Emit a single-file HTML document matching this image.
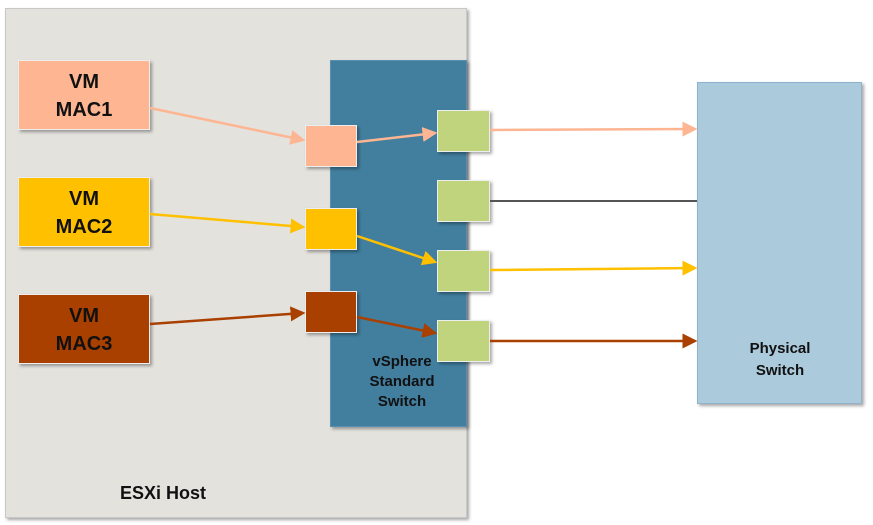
<!DOCTYPE html>
<html><head><style>
body{margin:0;width:873px;height:525px;background:#fff;position:relative;overflow:hidden;font-family:"Liberation Sans",sans-serif;}
div{position:absolute;box-sizing:border-box;}
.sh{box-shadow:2px 2px 3px rgba(0,0,0,.35);}
.vm{left:18px;width:132px;height:70px;border:1px solid #eee;font-weight:bold;font-size:20px;text-align:center;line-height:28px;padding-top:7px;color:#111;}
.p{width:52px;height:42px;border:1px solid #eee;}
.g{left:437px;width:53px;height:42px;background:#BFD47C;border:1px solid #eee;}
</style></head><body>
<div class="sh" style="left:5px;top:8px;width:462px;height:510px;background:#E4E2DD;border:1px solid #c8c8c8"></div>
<div style="left:120px;top:483px;font-weight:bold;font-size:18px;color:#111">ESXi Host</div>
<div class="sh" style="left:330px;top:60px;width:137px;height:367px;background:#427F9F;border:1px solid #5a8fb0"></div>
<div style="left:362px;top:352px;width:80px;text-align:center;font-weight:bold;font-size:15px;line-height:20px;color:#111">vSphere Standard Switch</div>
<div class="sh" style="left:697px;top:82px;width:165px;height:322px;background:#ABCADC;border:1px solid #8fb3cc"></div>
<div style="left:735px;top:338px;width:90px;text-align:center;font-weight:bold;font-size:15px;line-height:22px;color:#111">Physical Switch</div>
<div class="vm sh" style="top:60px;background:#FDB592">VM<br>MAC1</div>
<div class="vm sh" style="top:177px;background:#FFC000">VM<br>MAC2</div>
<div class="vm sh" style="top:294px;background:#A94000">VM<br>MAC3</div>
<div class="p sh" style="left:305px;top:125px;background:#FDB592"></div>
<div class="p sh" style="left:305px;top:208px;background:#FFC000"></div>
<div class="p sh" style="left:305px;top:291px;background:#A94000"></div>
<div class="g sh" style="top:110px"></div>
<div class="g sh" style="top:180px"></div>
<div class="g sh" style="top:250px"></div>
<div class="g sh" style="top:320px"></div>
<svg width="873" height="525" style="position:absolute;left:0;top:0">
<defs>
<marker id="a1" markerWidth="6" markerHeight="6" refX="5" refY="3" orient="auto"><path d="M0,0L6,3L0,6z" fill="#FDB592"/></marker>
<marker id="a2" markerWidth="6" markerHeight="6" refX="5" refY="3" orient="auto"><path d="M0,0L6,3L0,6z" fill="#FFC000"/></marker>
<marker id="a3" markerWidth="6" markerHeight="6" refX="5" refY="3" orient="auto"><path d="M0,0L6,3L0,6z" fill="#A94000"/></marker>
</defs>
<g stroke-width="2.5" fill="none">
<path d="M150,108L303,140" stroke="#FDB592" marker-end="url(#a1)"/>
<path d="M357,142L435,133" stroke="#FDB592" marker-end="url(#a1)"/>
<path d="M490,130L695,129" stroke="#FDB592" marker-end="url(#a1)"/>
<path d="M150,214L303,227" stroke="#FFC000" marker-end="url(#a2)"/>
<path d="M357,236L435,262" stroke="#FFC000" marker-end="url(#a2)"/>
<path d="M490,270L695,268" stroke="#FFC000" marker-end="url(#a2)"/>
<path d="M150,324L303,313" stroke="#A94000" marker-end="url(#a3)"/>
<path d="M357,317L435,333" stroke="#A94000" marker-end="url(#a3)"/>
<path d="M490,341L695,341" stroke="#A94000" marker-end="url(#a3)"/>
<path d="M490,201L697,201" stroke="#555" stroke-width="2"/>
</g></svg>
</body></html>
